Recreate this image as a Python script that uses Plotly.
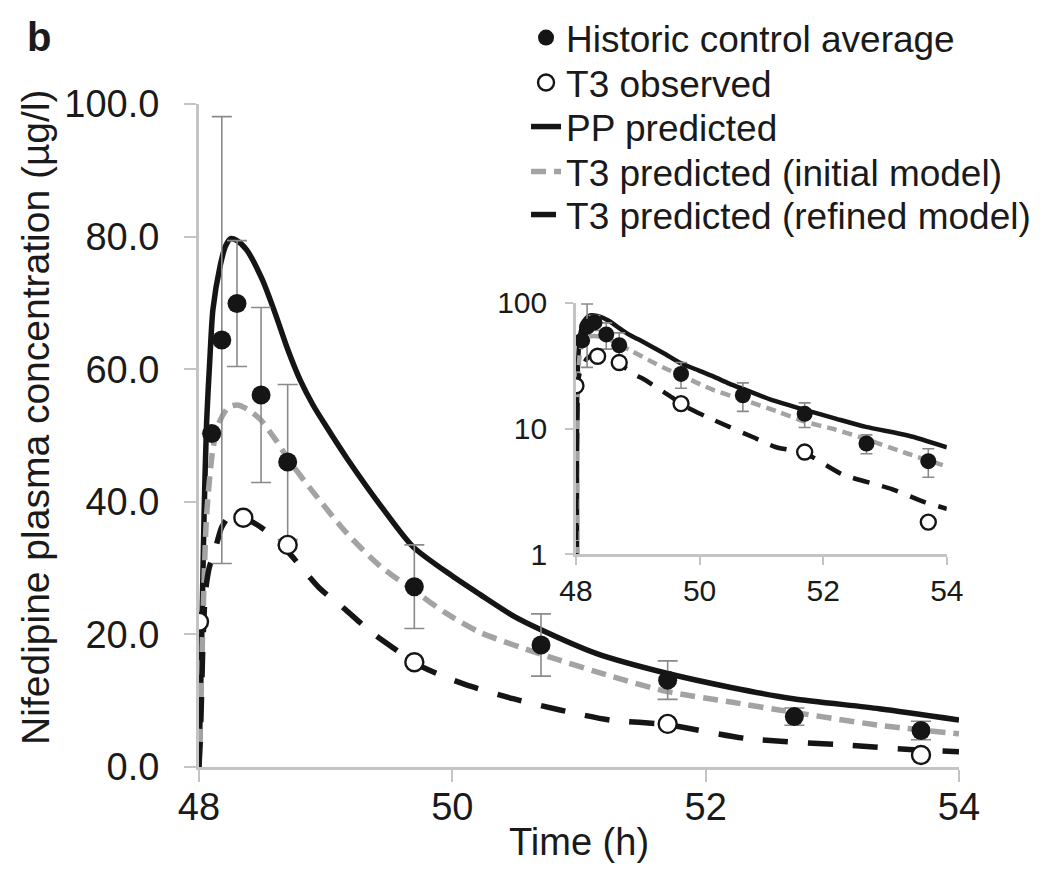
import plotly.graph_objects as go

# ---------------- data ----------------
# Historic control average (filled circles) with SD error bars
t_hist = [48.1, 48.18, 48.3, 48.49, 48.7, 49.7, 50.7, 51.7, 52.7, 53.7]
hist_mean = [50.3, 64.4, 69.9, 56.1, 46.0, 27.2, 18.4, 13.1, 7.6, 5.5]
hist_err = [None, 33.7, 9.5, 13.2, 11.7, 6.3, 4.7, 2.9, 1.3, 1.4]

# T3 observed (open circles)
t_t3 = [48.0, 48.35, 48.7, 49.7, 51.7, 53.7]
t3_obs = [21.9, 37.6, 33.5, 15.8, 6.5, 1.8]

# PP predicted (solid black)
t_pp = [48.0, 48.02, 48.04, 48.06, 48.087, 48.11, 48.166, 48.21, 48.25, 48.3,
        48.376, 48.5, 48.6, 48.7, 48.8, 48.9, 49.0, 49.17, 49.45, 49.69,
        50.0, 50.22, 50.48, 50.7, 51.14, 51.7, 52.2, 52.69, 53.37, 54.0]
pp_pred = [0.0, 18.0, 38.0, 52.0, 62.0, 69.0, 75.5, 78.6, 79.7, 79.4,
           78.0, 73.5, 68.5, 63.0, 58.3, 54.6, 51.5, 46.5, 39.0, 33.2,
           28.8, 26.0, 22.8, 20.7, 17.1, 14.1, 12.0, 10.3, 8.8, 7.1]

# T3 predicted, initial model (grey dashed)
t_init = [48.0, 48.02, 48.04, 48.06, 48.11, 48.16, 48.23, 48.3, 48.38, 48.48,
          48.6, 48.72, 48.9, 49.17, 49.43, 49.69, 49.95, 50.22, 50.7, 51.27,
          51.69, 52.2, 52.58, 53.37, 54.0]
init_pred = [0.0, 14.0, 28.0, 38.0, 48.0, 52.0, 54.2, 54.6, 54.0, 52.5,
             49.5, 46.0, 41.5, 35.2, 30.3, 26.7, 23.2, 20.3, 17.0, 13.6,
             11.4, 9.8, 8.6, 6.3, 5.0]

# T3 predicted, refined model (black long dashes)
t_ref = [48.0, 48.005, 48.01, 48.02, 48.03, 48.05, 48.08, 48.13, 48.18, 48.25,
         48.35, 48.5, 48.7, 48.95, 49.14, 49.35, 49.56, 49.69, 49.9, 50.11,
         50.48, 50.85, 51.24, 51.69, 52.32, 53.11, 53.64, 54.0]
ref_pred = [0.0, 2.0, 4.0, 10.6, 18.0, 26.2, 30.0, 33.0, 36.2, 38.0,
            37.6, 36.0, 32.5, 27.0, 24.0, 20.5, 17.6, 15.8, 13.9, 12.4,
            10.3, 8.6, 7.1, 6.4, 4.3, 3.3, 2.6, 2.3]

# tick labels
y_ticks = [0, 20, 40, 60, 80, 100]
x_ticks = [48, 50, 52, 54]
inset_y_ticks = [1, 10, 100]

# ---------------- styling ----------------
FONT = "Liberation Sans, Arial, sans-serif"
BLACK = "#151515"
TXT = "#1a1a1a"
GREY_LINE = "#a3a3a3"
AXIS_GREY = "#c4c4c4"
ERR_GREY = "#8a8a8a"

fig = go.Figure()


def add_set(xa, ya, lw, msize_f, msize_o, grey_dash, black_dash, err_w, show):
    fig.add_trace(go.Scatter(
        x=t_pp, y=pp_pred, mode="lines", name="PP predicted",
        line=dict(color=BLACK, width=lw, shape="spline", smoothing=0.7),
        xaxis=xa, yaxis=ya, showlegend=show, legend="legend3"))
    fig.add_trace(go.Scatter(
        x=t_init, y=init_pred, mode="lines", name="T3 predicted (initial model)",
        line=dict(color=GREY_LINE, width=lw, dash=grey_dash, shape="spline", smoothing=0.7),
        xaxis=xa, yaxis=ya, showlegend=show, legend="legend4"))
    fig.add_trace(go.Scatter(
        x=t_ref, y=ref_pred, mode="lines", name="T3 predicted (refined model)",
        line=dict(color=BLACK, width=lw, dash=black_dash, shape="spline", smoothing=0.7),
        xaxis=xa, yaxis=ya, showlegend=show, legend="legend5"))
    fig.add_trace(go.Scatter(
        x=t_hist, y=hist_mean, mode="markers", name="Historic control average",
        marker=dict(color=BLACK, size=msize_f, line=dict(width=0)),
        error_y=dict(type="data", array=hist_err, visible=True,
                     color=ERR_GREY, thickness=1.6, width=err_w),
        xaxis=xa, yaxis=ya, showlegend=show, legend="legend"))
    fig.add_trace(go.Scatter(
        x=t_t3, y=t3_obs, mode="markers", name="T3 observed",
        marker=dict(color="white", size=msize_o, line=dict(color=BLACK, width=2.4)),
        xaxis=xa, yaxis=ya, showlegend=show, legend="legend2"))


add_set("x", "y", 5.5, 19, 18, "15px,8px", "25px,20px", 10, True)
add_set("x2", "y2", 4.5, 16, 15, "10px,6px", "17px,13px", 6, False)

# one single-entry legend per row so that rows sit where the reference has them
legend_rows_y = [1.0995, 1.0317, 0.9653, 0.8974, 0.8326]
legend_keys = ["legend", "legend2", "legend3", "legend4", "legend5"]
legend_layout = {}
for key, ly in zip(legend_keys, legend_rows_y):
    legend_layout[key] = dict(
        x=0.4303, y=ly, xanchor="left", yanchor="middle",
        font=dict(size=37, family=FONT, color=TXT),
        bgcolor="rgba(0,0,0,0)", borderwidth=0,
    )

fig.update_layout(
    width=1048, height=876,
    margin=dict(l=191, r=97, t=96, b=117, autoexpand=False),
    paper_bgcolor="white", plot_bgcolor="rgba(0,0,0,0)",
    font=dict(family=FONT, color=TXT, size=35),
    xaxis=dict(
        range=[48, 54], tickvals=x_ticks, ticktext=[str(v) for v in x_ticks],
        showline=True, linecolor=AXIS_GREY, linewidth=3,
        ticks="outside", ticklen=12, tickwidth=2, tickcolor=AXIS_GREY,
        showgrid=False, zeroline=False, tickfont=dict(size=38),
        ticklabelstandoff=-8, automargin=False,
    ),
    yaxis=dict(
        range=[0, 100], tickvals=y_ticks, tickformat=".1f",
        showline=True, linecolor=AXIS_GREY, linewidth=3,
        ticks="outside", ticklen=12, tickwidth=2, tickcolor=AXIS_GREY,
        showgrid=False, zeroline=False, tickfont=dict(size=38),
        ticklabelstandoff=17, automargin=False,
    ),
    xaxis2=dict(
        domain=[0.496, 0.984], anchor="y2", range=[48, 54], tickvals=x_ticks,
        showline=True, linecolor=AXIS_GREY, linewidth=2.5,
        ticks="outside", ticklen=8, tickwidth=2, tickcolor=AXIS_GREY,
        showgrid=False, zeroline=False, tickfont=dict(size=30),
        automargin=False,
    ),
    yaxis2=dict(
        domain=[0.321, 0.700], anchor="x2", type="log", range=[0, 2],
        tickvals=inset_y_ticks, ticktext=[str(v) for v in inset_y_ticks],
        showline=True, linecolor=AXIS_GREY, linewidth=2.5,
        ticks="outside", ticklen=8, tickwidth=2, tickcolor=AXIS_GREY,
        showgrid=False, zeroline=False, tickfont=dict(size=30),
        ticklabelstandoff=12, automargin=False,
    ),
    annotations=[
        dict(text="<b>b</b>", xref="paper", yref="paper", x=-0.229, y=1.138,
             xanchor="left", yanchor="top", showarrow=False,
             font=dict(size=40, family=FONT, color=TXT)),
        dict(text="Nifedipine plasma concentration (µg/l)", xref="paper", yref="paper",
             x=-0.2145, y=0.528, xanchor="center", yanchor="middle", textangle=-90,
             showarrow=False, font=dict(size=39, family=FONT, color=TXT)),
        dict(text="Time (h)", xref="paper", yref="paper", x=0.5, y=-0.113,
             xanchor="center", yanchor="middle", showarrow=False,
             font=dict(size=38, family=FONT, color=TXT)),
    ],
    **legend_layout,
)

fig.write_html("out.html")
